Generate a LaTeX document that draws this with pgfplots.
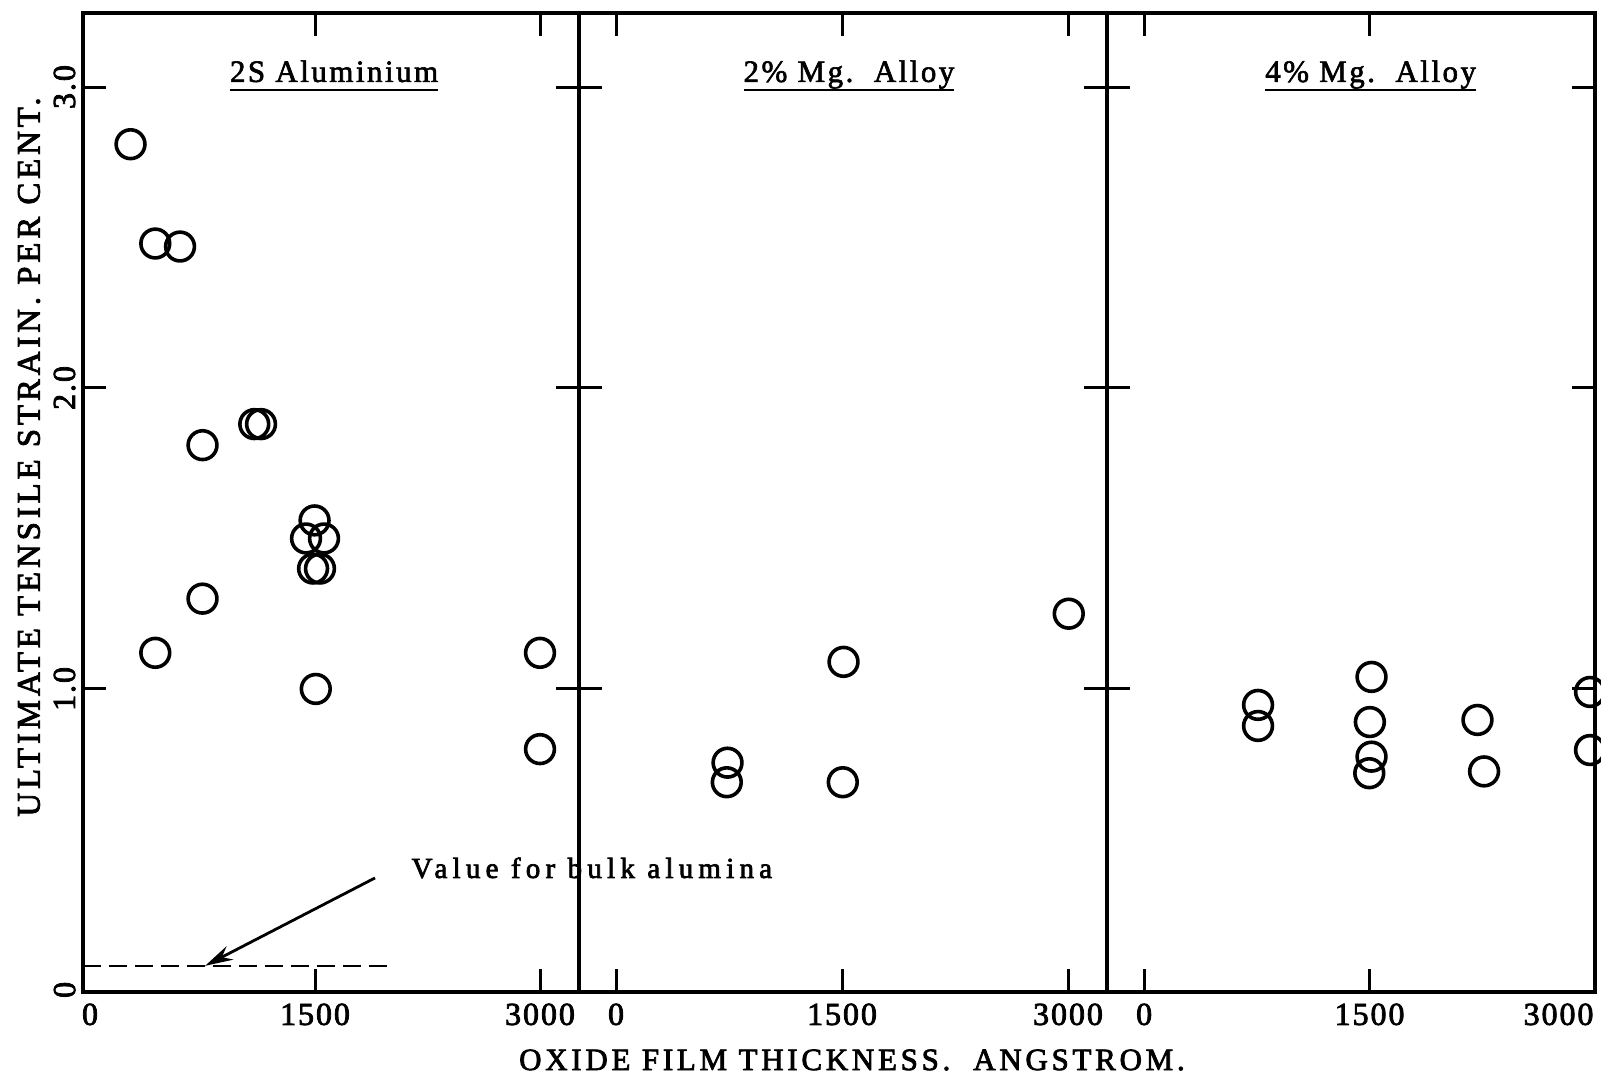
\documentclass[border=0pt]{standalone}
\usepackage{fontspec}
\usepackage{pgfplots}
\pgfplotsset{compat=1.18}
\usetikzlibrary{arrows.meta}
\setmainfont{Liberation Serif}
\newfontfamily\labfont[LetterSpace=12, FakeBold=2.5]{Liberation Serif}
\newfontfamily\tkfont[LetterSpace=6, FakeBold=2.5]{Liberation Serif}
\newfontfamily\notefont[LetterSpace=18, FakeBold=2.5]{Liberation Serif}
\newfontfamily\ttlfont[LetterSpace=8, FakeBold=2]{Liberation Serif}

% underlined panel heading
\newcommand\ul[1]{\setbox0\hbox{#1}\rlap{\rule[-4.5pt]{\wd0}{1.2pt}}\box0}

\tikzset{paneltitle/.style={anchor=base, font=\ttlfont\fontsize{15.5}{16}\selectfont}}

\pgfplotsset{
  panel/.style={
    scale only axis,
    height=489.5pt,
    ymin=-0.007, ymax=3.246,
    line width=1.6pt,
    axis line style={line width=1.6pt},
    every tick/.style={line width=1.5pt, black},
    major tick length=11.5pt,
    tick align=inside,
    xtick pos=both, ytick pos=both,
    tick label style={font=\tkfont\fontsize{16}{16}\selectfont},
    xticklabel style={anchor=north, inner xsep=0pt, inner ysep=5pt},
    ytick={1,2,3},
    yticklabels={},
  },
  pts/.style={only marks, mark=o, mark size=7.2pt,
    mark options={line width=1.8pt, black}},
}

\begin{document}
\begin{tikzpicture}
\path[use as bounding box] (0pt,0pt) rectangle (800.5pt,538.5pt);

% 2S Aluminium
\begin{axis}[panel, at={(41.5pt,42.5pt)}, anchor=south west, width=248pt,
  xmin=-47, xmax=3260, clip=false,
  xtick={1500,3000}, xticklabels={1500,3000},
  extra x ticks={0}, extra x tick labels={0},
  extra y ticks={0}, extra y tick labels={0},
  extra tick style={major tick length=0pt},
  ytick={1,2,3}, yticklabels={1.0,2.0,3.0},
  yticklabel style={rotate=90, anchor=south, inner sep=3pt}]
\addplot[pts] coordinates {
  (270,2.81) (435,2.48) (600,2.47) (750,1.81) (1095,1.88) (1140,1.88)
  (1497,1.56) (1440,1.50) (1560,1.50) (1487,1.40) (1533,1.40)
  (750,1.30) (435,1.12) (1505,1.00) (3000,1.12) (3000,0.80)};
\draw[line width=1.2pt, dash pattern=on 9pt off 4pt]
  (axis cs:-47,0.08) -- (axis cs:2020,0.08);
\draw[line width=1.4pt, -{Stealth[length=14pt, width=7.5pt]}]
  (axis cs:1900,0.372) -- (axis cs:767,0.08);
\node[anchor=base west, inner sep=0pt, font=\notefont\fontsize{14.5}{15}\selectfont]
  at (axis cs:2133,0.372) {Value for bulk alumina};
\node[paneltitle] at (axis cs:1627,3.017) {\ul{2S Aluminium}};
\end{axis}

% 2% Mg. Alloy
\begin{axis}[panel, at={(289.5pt,42.5pt)}, anchor=south west, width=264pt,
  xmin=-246, xmax=3259,
  xtick={0,1500,3000}, xticklabels={0,1500,3000}]
\addplot[pts] coordinates {
  (3005,1.25) (1510,1.09) (740,0.755) (735,0.69) (1505,0.69)};
\node[paneltitle] at (axis cs:1546,3.017) {\ul{2\% Mg.\ \ Alloy}};
\end{axis}

% 4% Mg. Alloy
\begin{axis}[panel, at={(553.5pt,42.5pt)}, anchor=south west, width=244pt,
  xmin=-247, xmax=3000,
  xtick={0,1500}, xticklabels={0,1500},
  extra x ticks={3000}, extra x tick labels={3000},
  extra x tick style={xticklabel style={anchor=north east}}]
\addplot[pts] coordinates {
  (758,0.947) (758,0.877) (1513,1.04) (1502,0.89) (1513,0.775) (1498,0.72)
  (2218,0.897) (2262,0.726) (2967,0.99) (2967,0.797)};
\node[paneltitle] at (axis cs:1507,3.017) {\ul{4\% Mg.\ \ Alloy}};
\end{axis}

\node[rotate=90, font=\labfont\fontsize{16.4}{17}\selectfont]
  at (14.5pt,310pt) {ULTIMATE TENSILE STRAIN. PER CENT.};
\node[font=\labfont\fontsize{15.5}{16}\selectfont]
  at (426pt,8.5pt) {OXIDE FILM THICKNESS.\ \ ANGSTROM.};
\end{tikzpicture}
\end{document}
